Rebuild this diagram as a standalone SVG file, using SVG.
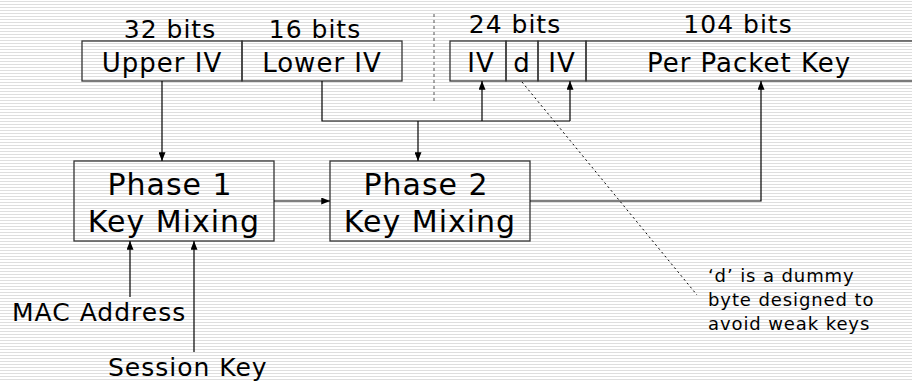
<svg xmlns="http://www.w3.org/2000/svg" width="912" height="381" viewBox="0 0 912 381">
<defs>
<pattern id="stripes" x="0" y="0" width="4" height="3" patternUnits="userSpaceOnUse">
<rect width="4" height="3" fill="#ffffff"/>
<rect y="1" width="4" height="1" fill="#dedede"/>
</pattern>
<marker id="arr" viewBox="0 0 10 8" refX="10" refY="4" markerWidth="9" markerHeight="7" markerUnits="userSpaceOnUse" orient="auto">
<path d="M0,0 L10,4 L0,8 Z" fill="#000"/>
</marker>
</defs>
<style>
text{font-family:"DejaVu Sans","Liberation Sans",sans-serif;fill:#000;letter-spacing:1px}
.box{fill:none;stroke:#333;stroke-width:1.3}
.c{fill:none;stroke:#000;stroke-width:1.2}
.a{marker-end:url(#arr)}
.bits{font-size:25px;text-anchor:middle}
.lbl{font-size:26px;text-anchor:middle}
.ph{font-size:30px;text-anchor:middle}
.side{font-size:25px}
.note{font-size:18px;letter-spacing:0.9px}
</style>
<rect width="912" height="381" fill="url(#stripes)"/>

<g id="iv-upper">
<rect class="box" x="82" y="41" width="160" height="40"/>
<text class="lbl" x="162" y="72">Upper IV</text>
<text class="bits" x="170" y="38">32 bits</text>
</g>
<g id="iv-lower">
<rect class="box" x="242" y="41" width="160" height="40"/>
<text class="lbl" x="322" y="72">Lower IV</text>
<text class="bits" x="315" y="38">16 bits</text>
</g>
<g id="separator">
<line x1="434" y1="14" x2="434" y2="104" stroke="#555" stroke-width="1" stroke-dasharray="3,3"/>
</g>
<g id="key-iv1">
<rect class="box" x="450" y="41" width="56" height="40"/>
<text class="lbl" x="481" y="72">IV</text>
</g>
<g id="key-d">
<rect class="box" x="506" y="41" width="32" height="40"/>
<text class="lbl" x="522" y="72">d</text>
</g>
<g id="key-iv2">
<rect class="box" x="538" y="41" width="48" height="40"/>
<text class="lbl" x="562" y="72">IV</text>
</g>
<g id="key-ppk">
<rect class="box" x="586" y="41" width="340" height="40"/>
<text class="lbl" x="749" y="72">Per Packet Key</text>
</g>
<text class="bits" x="515" y="33">24 bits</text>
<text class="bits" x="738" y="33">104 bits</text>

<g id="phase1">
<rect class="box" x="74" y="161" width="200" height="80"/>
<text class="ph" x="170" y="195">Phase 1</text>
<text class="ph" x="174" y="232">Key Mixing</text>
</g>
<g id="phase2">
<rect class="box" x="330" y="161" width="200" height="80"/>
<text class="ph" x="426" y="195">Phase 2</text>
<text class="ph" x="430" y="232">Key Mixing</text>
</g>
<g id="mac">
<text class="side" x="12" y="321">MAC Address</text>
</g>
<g id="session">
<text class="side" x="108" y="376">Session Key</text>
</g>
<g id="note">
<text class="note" x="708" y="282">‘d’ is a dummy</text>
<text class="note" x="708" y="306">byte designed to</text>
<text class="note" x="708" y="330">avoid weak keys</text>
</g>

<g id="connectors">
<line class="c a" x1="162" y1="81" x2="162" y2="161"/>
<polyline class="c" points="322,81 322,121 570,121"/>
<line class="c a" x1="418" y1="121" x2="418" y2="161"/>
<line class="c a" x1="482" y1="121" x2="482" y2="81"/>
<line class="c a" x1="570" y1="121" x2="570" y2="81"/>
<line class="c a" x1="274" y1="201" x2="330" y2="201"/>
<polyline class="c a" points="530,201 761,201 761,81"/>
<line class="c a" x1="130" y1="297" x2="130" y2="241"/>
<line class="c a" x1="194" y1="352" x2="194" y2="241"/>
<line x1="522" y1="82" x2="697" y2="295" stroke="#000" stroke-width="1" stroke-dasharray="2,3"/>
</g>
</svg>
